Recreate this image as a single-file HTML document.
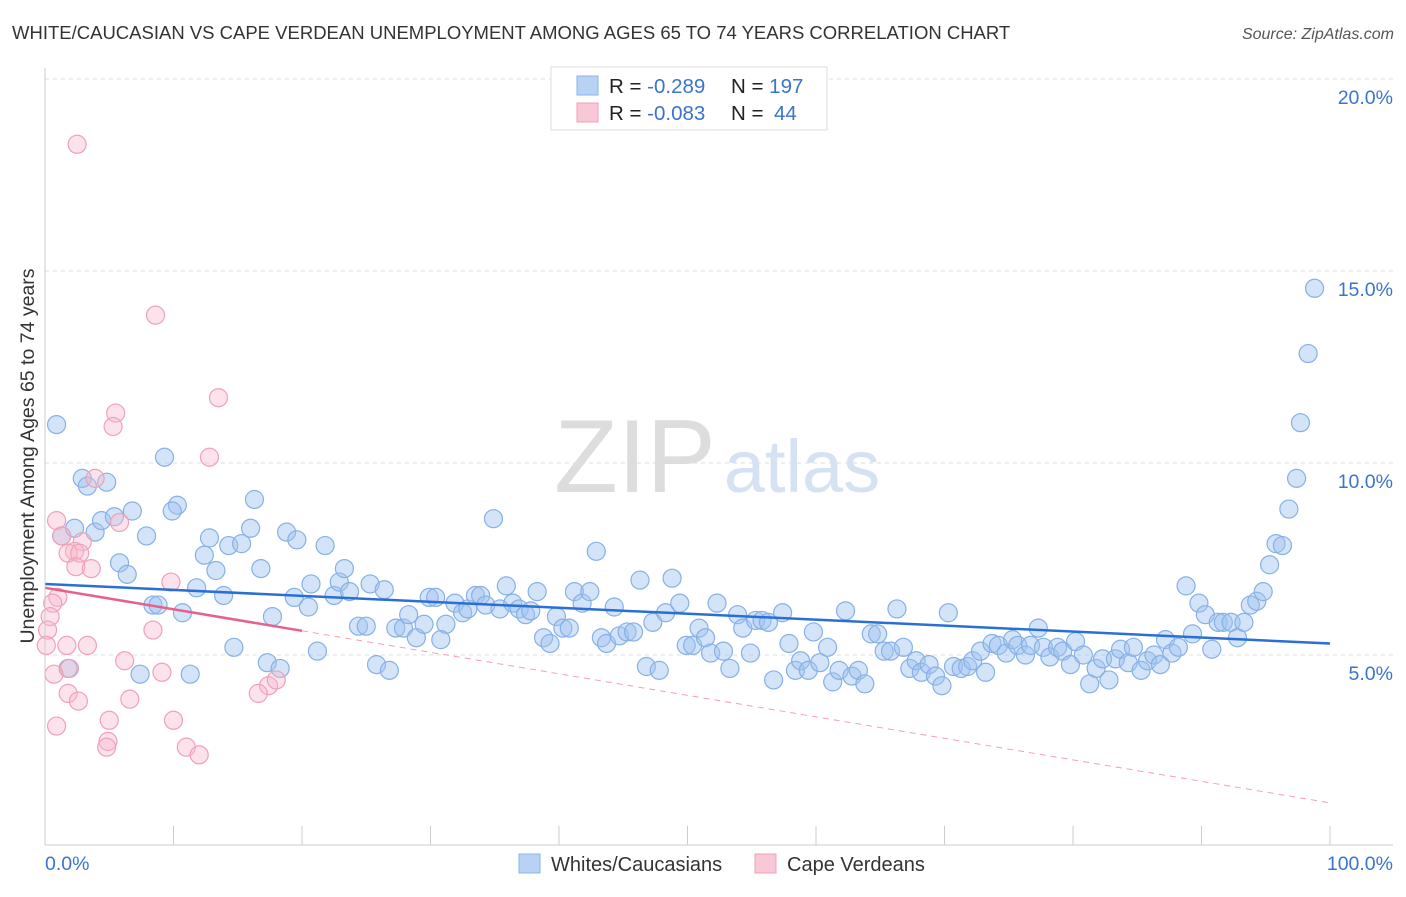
<!DOCTYPE html>
<html><head><meta charset="utf-8"><style>
body{margin:0;background:#fff;font-family:"Liberation Sans",sans-serif}
svg text{font-family:"Liberation Sans",sans-serif}
</style></head><body>
<svg width="1406" height="892" xmlns="http://www.w3.org/2000/svg">
<text x="12" y="39" font-size="18.5" fill="#333">WHITE/CAUCASIAN VS CAPE VERDEAN UNEMPLOYMENT AMONG AGES 65 TO 74 YEARS CORRELATION CHART</text>
<text x="1394" y="39" font-size="16" fill="#555" font-style="italic" text-anchor="end">Source: ZipAtlas.com</text>
<g id="grid"></g>
<g><text x="635" y="492" font-size="104" fill="#ddd" font-family="Liberation Serif" text-anchor="middle">ZIP</text><text x="802" y="492" font-size="74" fill="#d4e2f4" text-anchor="middle">atlas</text></g>
<g id="pts"></g>
<g id="lines"></g>
<line x1="45" y1="68" x2="45" y2="845" stroke="#ccc"/>
<line x1="45" y1="845" x2="1393" y2="845" stroke="#ccc"/>
<text x="45" y="870" font-size="19.5" fill="#3a74d0">0.0%</text>
<text x="1393" y="870" font-size="19.5" fill="#3a74d0" text-anchor="end">100.0%</text>
<text transform="translate(34,456) rotate(-90)" font-size="19.5" fill="#333" text-anchor="middle">Unemployment Among Ages 65 to 74 years</text>
<g>
<rect x="551" y="67" width="276" height="63" fill="#fff" stroke="#ddd"/>
<rect x="577" y="76" width="21" height="19" fill="#b8d2f4" stroke="#8ab4e8"/>
<rect x="577" y="103" width="21" height="19" fill="#f9c8d6" stroke="#f0a0b8"/>
<text x="609" y="93" font-size="20.5" fill="#222">R = <tspan fill="#3a74d0">-0.289</tspan><tspan x="731">N = </tspan><tspan fill="#3a74d0">197</tspan></text>
<text x="609" y="120" font-size="20.5" fill="#222">R = <tspan fill="#3a74d0">-0.083</tspan><tspan x="731">N = </tspan><tspan fill="#3a74d0" x="774">44</tspan></text>
</g>
<g>
<rect x="519" y="854" width="21" height="19" fill="#b8d2f4" stroke="#8ab4e8"/>
<text x="551" y="871" font-size="20" fill="#333">Whites/Caucasians</text>
<rect x="755" y="854" width="21" height="19" fill="#f9c8d6" stroke="#f0a0b8"/>
<text x="787" y="871" font-size="20" fill="#333">Cape Verdeans</text>
</g>
</svg>
<script>
const yTicks=[5,10,15,20];
const yTickLabels=["5.0%","10.0%","15.0%","20.0%"];
const blueX=[0.9,2.9,3.3,4.8,1.3,2.3,3.9,4.4,5.4,6.8,9.3,10.3,9.9,7.9,5.8,6.4,8.4,8.8,10.7,11.8,12.4,12.8,13.3,13.9,14.3,15.3,16.0,16.3,16.8,17.7,18.8,19.6,19.4,20.5,20.7,21.8,22.5,22.9,23.3,23.7,24.4,25.0,25.3,26.4,27.3,27.9,28.3,28.9,29.5,29.9,30.4,31.2,30.8,31.9,32.5,32.9,33.5,33.9,34.3,34.9,35.4,35.9,36.4,36.9,37.4,37.8,38.3,38.8,39.3,39.8,40.3,40.8,41.2,41.8,42.4,42.9,43.3,43.7,44.3,44.7,45.3,45.8,46.3,46.8,47.3,47.8,48.3,48.8,49.4,49.9,50.4,50.9,51.4,51.8,52.3,52.8,53.3,53.9,54.3,54.9,55.3,55.8,56.3,56.7,57.4,57.9,58.4,58.8,59.4,59.8,60.3,60.9,61.3,61.8,62.3,62.8,63.3,63.8,64.3,64.8,65.3,65.8,66.3,66.8,67.3,67.8,68.2,68.8,69.3,69.8,70.3,70.7,71.3,71.8,72.2,72.8,73.2,73.7,74.2,74.8,75.3,75.7,76.3,76.7,77.3,77.7,78.2,78.8,79.2,79.8,80.2,80.8,81.3,81.8,82.3,82.8,83.3,83.7,84.3,84.7,85.3,85.8,86.3,86.8,87.2,87.7,88.2,88.8,89.3,89.8,90.3,90.8,91.3,91.7,92.3,92.8,93.3,93.8,94.3,94.8,95.3,95.8,96.3,96.8,97.4,97.7,98.3,98.8,1.8,7.4,11.3,14.7,17.3,18.3,21.2,25.8,26.8];
const blueY=[11.0,9.6,9.4,9.5,8.1,8.3,8.2,8.5,8.6,8.75,10.15,8.9,8.75,8.1,7.4,7.1,6.3,6.3,6.1,6.75,7.6,8.05,7.2,6.55,7.85,7.9,8.3,9.05,7.25,6.0,8.2,8.0,6.5,6.25,6.85,7.85,6.55,6.9,7.25,6.65,5.75,5.75,6.85,6.7,5.7,5.7,6.05,5.45,5.8,6.5,6.5,5.8,5.4,6.35,6.1,6.2,6.55,6.55,6.3,8.55,6.2,6.8,6.35,6.2,6.05,6.15,6.65,5.45,5.3,6.0,5.7,5.7,6.65,6.35,6.65,7.7,5.45,5.3,6.25,5.5,5.6,5.6,6.95,4.7,5.85,4.6,6.1,7.0,6.35,5.25,5.25,5.7,5.45,5.05,6.35,5.1,4.65,6.05,5.7,5.05,5.9,5.9,5.85,4.35,6.1,5.3,4.6,4.85,4.6,5.6,4.8,5.2,4.3,4.6,6.15,4.45,4.6,4.25,5.55,5.55,5.1,5.1,6.2,5.2,4.65,4.85,4.55,4.75,4.45,4.2,6.1,4.7,4.65,4.7,4.85,5.1,4.55,5.3,5.25,5.05,5.4,5.25,5.0,5.25,5.7,5.2,4.95,5.2,5.1,4.75,5.35,5.0,4.25,4.65,4.9,4.35,4.9,5.15,4.8,5.2,4.6,4.85,5.0,4.75,5.4,5.05,5.2,6.8,5.55,6.35,6.05,5.15,5.85,5.85,5.85,5.45,5.85,6.3,6.4,6.65,7.35,7.9,7.85,8.8,9.6,11.05,12.85,14.55,4.65,4.5,4.5,5.2,4.8,4.65,5.1,4.75,4.6];
const pinkX=[2.5,8.6,13.5,5.5,5.3,12.8,3.9,0.9,1.3,5.8,2.9,2.3,1.8,2.7,2.4,3.6,9.8,1.0,0.6,0.4,0.2,8.4,0.1,1.7,3.3,1.9,6.2,9.1,0.7,1.8,2.6,6.6,17.4,18.0,16.6,5.0,10.0,0.9,4.9,4.8,11.0,12.0];
const pinkY=[18.3,13.85,11.7,11.3,10.95,10.15,9.6,8.5,8.1,8.45,7.95,7.7,7.65,7.65,7.3,7.25,6.9,6.5,6.35,6.0,5.65,5.65,5.25,5.25,5.25,4.65,4.85,4.55,4.5,4.0,3.8,3.85,4.2,4.35,4.0,3.3,3.3,3.15,2.75,2.6,2.6,2.4];
const blueTrend=[6.85,5.3];
const pinkTrend=[6.75,1.15];
const NS="http://www.w3.org/2000/svg";
const X=v=>45+v*12.85, Y=v=>847-v*38.4;
function mk(t,a,p){const e=document.createElementNS(NS,t);for(const k in a)e.setAttribute(k,a[k]);p.appendChild(e);return e;}
const grid=document.getElementById('grid');
yTicks.forEach((t,i)=>{
 const l=mk('line',{x1:45,x2:1393,y1:Y(t),y2:Y(t),stroke:'#ddd','stroke-dasharray':'4,4'},grid);
 
 
 const tx=mk('text',{x:1393,y:Y(t)+25,'font-size':19.5,fill:'#3a74d0','text-anchor':'end'},grid);
 tx.textContent=yTickLabels[i];
 
 
});
for(let k=0;k<=10;k++){
 const l=mk('line',{x1:X(k*10),x2:X(k*10),y1:826,y2:845,stroke:'#ccc'},grid);
 
 
}
const pts=document.getElementById('pts');
blueX.forEach((x,i)=>{
 const c=mk('circle',{cx:X(x),cy:Y(blueY[i]),r:9,fill:'rgba(160,196,240,0.45)',stroke:'#86b0e6','stroke-width':1.2},pts);
 
 
});
pinkX.forEach((x,i)=>{
 const c=mk('circle',{cx:X(x),cy:Y(pinkY[i]),r:9,fill:'rgba(248,184,204,0.4)',stroke:'#f0a0b8','stroke-width':1.2},pts);
 
 
});
const lg=document.getElementById('lines');
const b=mk('line',{x1:X(0),y1:Y(blueTrend[0]),x2:X(100),y2:Y(blueTrend[1]),stroke:'#2a6fd6','stroke-width':2.5},lg);


const pAt=x=>pinkTrend[0]+(pinkTrend[1]-pinkTrend[0])*x/100;
const p1=mk('line',{x1:X(0),y1:Y(pAt(0)),x2:X(20),y2:Y(pAt(20)),stroke:'#e8608a','stroke-width':2.5},lg);


const p2=mk('line',{x1:X(20),y1:Y(pAt(20)),x2:X(100),y2:Y(pAt(100)),stroke:'#f0a0b8','stroke-width':1,'stroke-dasharray':'6,5'},lg);


</script>
</body></html>
